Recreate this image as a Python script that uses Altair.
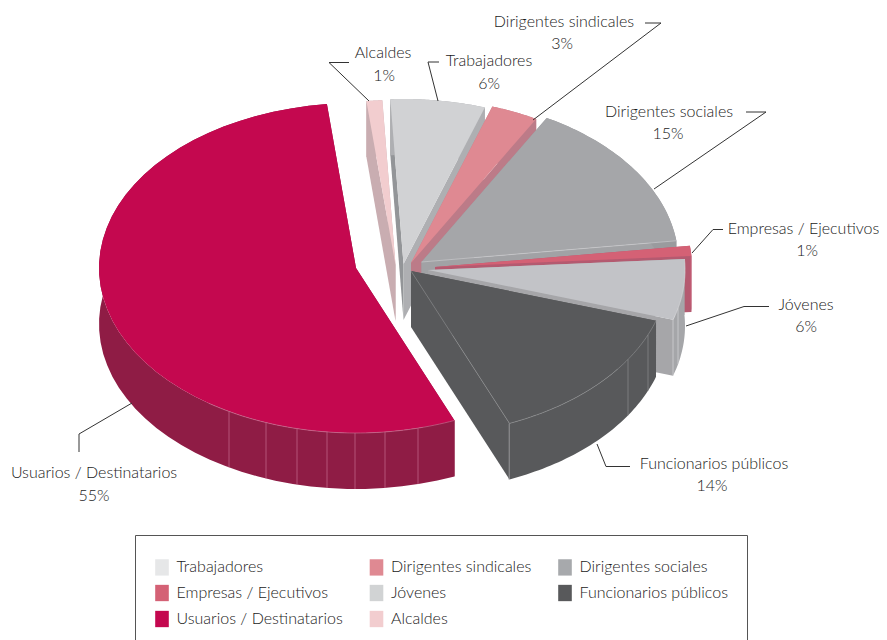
import math
import altair as alt

# ---- chart values
names = ["Alcaldes", "Trabajadores", "Dirigentes sindicales", "Dirigentes sociales",
         "Empresas / Ejecutivos", "Jóvenes", "Funcionarios públicos", "Usuarios / Destinatarios"]
values = [1, 6, 3, 15, 1, 6, 14, 55]
legend_order = ["Trabajadores", "Dirigentes sindicales", "Dirigentes sociales",
                "Empresas / Ejecutivos", "Jóvenes", "Funcionarios públicos",
                "Usuarios / Destinatarios", "Alcaldes"]
legend_colors = ["#e6e7e8", "#df8992", "#a7a9ac", "#d46175", "#d1d3d4", "#58595b", "#c4084f", "#f2cdcf"]

# ---- styling and layout of the exploded pie
top_colors = ["#f2cdcf", "#d1d2d4", "#df8992", "#a5a6a9", "#d46175", "#c2c3c7", "#58595b", "#c4084f"]
wall_left = ["#c9adb1", "#939598", "#c07f8a", "#9a9a9d", "#b45a70", "#a6a6a9", "#58595b", "#8f1c45"]
wall_right = ["#c9adb1", "#aeafb2", "#bc7b88", "#a1a2a5", "#b45a70", "#a6a6a9", "#58595b", "#8f1c45"]
wall_outer = ["#c9adb1", "#aeafb2", "#bc7b88", "#9a9b9e", "#c05a72", "#a5a6a9", "#58595b", "#8f1c45"]
apex_x = [395.5, 403.5, 411, 421.5, 435, 428, 411, 356]
apex_y = [265, 264, 263, 262, 267, 270, 271, 268]
seam_x = [[], [], [], [], [], [673, 678], [509, 628, 648], [229, 266, 297, 327, 355, 385, 418]]
seam_colors = ["#cccccc", "#cccccc", "#cccccc", "#cccccc", "#cccccc", "#d5d5d8", "#8a8b8d", "#c46a8c"]
START_ANGLE = 353.5
RIM_END = 575
RX, RY, DEPTH = 257, 165, 56

label_text = ["Alcaldes", "1%", "Trabajadores", "6%", "Dirigentes sindicales", "3%", "Dirigentes sociales", "15%",
              "Empresas / Ejecutivos", "1%", "Jóvenes", "6%", "Funcionarios públicos", "14%",
              "Usuarios / Destinatarios", "55%"]
label_x = [383, 384, 489, 489, 564, 562, 669, 668, 803.5, 807, 806, 806, 714, 712, 94, 94]
label_y = [53, 76, 61, 84, 22, 44, 112, 134, 229, 251, 305, 327, 464, 486, 473, 496]
leaders = [[(349, 62.5), (329, 62.5), (369, 101)], [(439, 62), (428, 62), (438, 101)],
           [(645, 23), (661, 23), (533, 120)], [(746, 112), (766, 112), (654, 189)],
           [(723, 229.5), (713, 229.5), (692, 253)], [(769, 306.5), (744, 306.5), (686, 326)],
           [(630, 466.5), (606, 466.5), (597, 444)], [(79, 452), (79, 434), (132, 403)]]

OFF = 8  # page margin


def pt(x, y):
    return [x - OFF, y - OFF]


def arc(cx, cy, a0, a1, dy=0, n=48):
    return [pt(cx + RX * math.sin(math.radians(a0 + (a1 - a0) * i / n)),
               cy - RY * math.cos(math.radians(a0 + (a1 - a0) * i / n)) + dy) for i in range(n + 1)]


def poly(part, ring):
    ring = ring + [ring[0]]
    return {"type": "Feature", "geometry": {"type": "Polygon", "coordinates": [ring]}, "part": part}


def line(col, coords):
    return {"type": "Feature", "geometry": {"type": "LineString", "coordinates": coords}, "col": col}


shapes, detail = [], []
domain, colors = list(legend_order), list(legend_colors)


def reg(part, col):
    domain.append(part)
    colors.append(col)
    return part


total = sum(values)
angle = START_ANGLE
for i, (nm, v) in enumerate(zip(names, values)):
    a0, a1 = angle, angle + 360 * v / total
    angle = a1
    cx, cy = apex_x[i], apex_y[i]
    top = arc(cx, cy, a0, a1)
    low = arc(cx, cy, a0, a1, DEPTH)
    ap, apd = pt(cx, cy), pt(cx, cy + DEPTH)
    shapes.append(poly(reg(nm + " left", wall_left[i]), [ap, top[0], low[0], apd]))
    shapes.append(poly(reg(nm + " right", wall_right[i]), [ap, top[-1], low[-1], apd]))
    shapes.append(poly(reg(nm + " outer", wall_outer[i]), top + low[::-1]))
    shapes.append(poly(reg(nm + " top", top_colors[i]), [ap] + top))
    for sx in seam_x[i]:
        c = math.sqrt(max(0, 1 - ((sx - cx) / RX) ** 2))
        sy = cy + RY * c
        detail.append(line(seam_colors[i], [pt(sx, sy), pt(sx, sy + DEPTH)]))
    if seam_x[i]:
        # highlight only on the front part of the rim
        rim = arc(cx, cy, a0, min(a1, RIM_END))
        detail.append(line(seam_colors[i], rim))
    if nm.startswith("Funcionarios"):
        detail.append(line(seam_colors[i], [ap, top[-1]]))
    if nm == "Dirigentes sociales":
        detail.append(line("#c8c9cb", [ap, top[-1]]))

proj = dict(type="identity", scale=1, translate=[0, 0])

pie = alt.Chart(alt.InlineData(values=shapes)).mark_geoshape(strokeWidth=0, opacity=1).encode(
    color=alt.Color("part:N", scale=alt.Scale(domain=domain, range=colors),
                    legend=alt.Legend(values=legend_order, title=" ", titleFontSize=1, titlePadding=4,
                                      orient="none",
                                      legendX=127, legendY=527, columns=3, direction="horizontal",
                                      labelFont="Lato", labelFontSize=16, labelFontWeight=300,
                                      labelColor="#1a1a1a", labelLimit=300, labelOffset=6.5,
                                      symbolType="M-1,-1.2H1V1.2H-1Z", symbolSize=185,
                                      symbolStrokeWidth=0, symbolOpacity=1,
                                      strokeColor="#555555", fillColor="white", padding=19,
                                      rowPadding=8, columnPadding=25.5, gridAlign="each"))
).project(**proj)

seams = alt.Chart(alt.InlineData(values=detail)).mark_geoshape(filled=False, strokeWidth=0.7).encode(
    stroke=alt.Stroke("col:N", scale=None)
).project(**proj)

leader_feats = [line("#333333", [pt(*p) for p in l]) for l in leaders]
lead = alt.Chart(alt.InlineData(values=leader_feats)).mark_geoshape(filled=False, strokeWidth=1, stroke="#333333").project(**proj)

labels = alt.Chart(alt.InlineData(values=[{"t": t, "x": x - OFF, "y": y - OFF} for t, x, y in zip(label_text, label_x, label_y)])).mark_text(
    font="Lato", fontSize=16, fontWeight=300, color="#1a1a1a", align="center", baseline="middle"
).encode(x=alt.X("x:Q", scale=None), y=alt.Y("y:Q", scale=None), text="t:N")

chart = alt.layer(pie, seams, lead, labels).properties(
    width=871, height=632, padding=0, autosize=alt.AutoSizeParams(type="none"),
    background="white"
).configure_view(stroke=None)

chart.save("out.html", embed_options={"renderer": "svg", "actions": False})
